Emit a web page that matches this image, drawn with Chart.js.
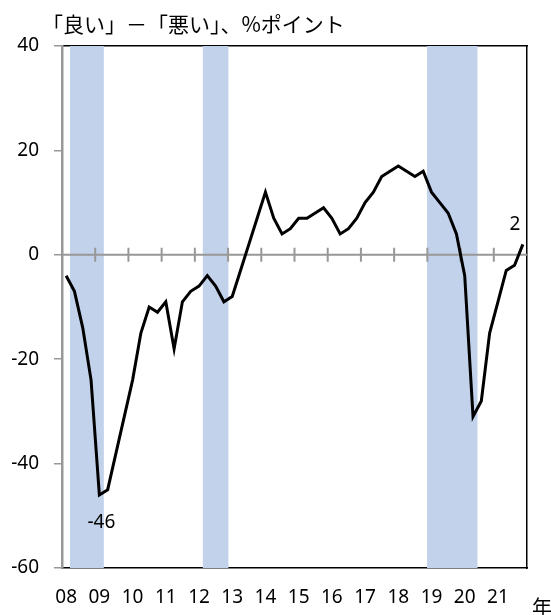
<!DOCTYPE html>
<html>
<head>
<meta charset="utf-8">
<script src="https://cdn.jsdelivr.net/npm/chart.js@4.4.1/dist/chart.umd.min.js"></script>
<style>
  html, body { margin: 0; padding: 0; background: #fff; }
  canvas { display: block; }
</style>
</head>
<body>
<canvas id="chart" width="551" height="615"></canvas>
<script>
// year labels (x axis) and quarterly DI values, 2008Q1 - 2021Q4
const years = ['08', '09', '10', '11', '12', '13', '14', '15', '16', '17', '18', '19', '20', '21'];
const quarterNames = ['Q1', 'Q2', 'Q3', 'Q4'];
const quarters = years.flatMap(y => quarterNames.map(q => y + q));

const diValues = [
  -4, -7, -14, -24,   // 08
  -46, -45, -38, -31, // 09
  -24, -15, -10, -11, // 10
  -9, -18, -9, -7,    // 11
  -6, -4, -6, -9,     // 12
  -8, -3, 2, 7,       // 13
  12, 7, 4, 5,        // 14
  7, 7, 8, 9,         // 15
  7, 4, 5, 7,         // 16
  10, 12, 15, 16,     // 17
  17, 16, 15, 16,     // 18
  12, 10, 8, 4,       // 19
  -4, -31, -28, -15,  // 20
  -9, -3, -2, 2       // 21
];

// shaded periods (first and last quarter)
const shadeFrom = ['08Q2', '12Q2', '19Q1'];
const shadeTo = ['09Q1', '12Q4', '20Q2'];

const yTicks = [-60, -40, -20, 0, 20, 40];
const Y_MIN = yTicks[0];
const Y_MAX = yTicks[yTicks.length - 1];

// quarters whose value gets a text label
const labelledQuarters = ['09Q1', '21Q4'];

const TITLE = '「良い」－「悪い」、%ポイント';
const X_UNIT = '年';

const NUM_FONT = "'Noto Sans', 'Open Sans', sans-serif";
const JP_FONT = "'Noto Sans CJK JP', 'Noto Sans', sans-serif";
const AXIS_GRAY = '#989898';

const shadeData = quarters.map(q => {
  const inside = shadeFrom.some((from, k) => {
    const a = quarters.indexOf(from);
    const b = quarters.indexOf(shadeTo[k]);
    const i = quarters.indexOf(q);
    return i >= a && i <= b;
  });
  return inside ? [Y_MIN, Y_MAX] : null;
});

// zero line with year tick marks, drawn over the shading but under the line
const zeroAxis = {
  id: 'zeroAxis',
  afterDatasetDraw(chart, args) {
    if (args.meta.type !== 'bar') return;
    const { ctx, chartArea } = chart;
    const xs = chart.scales.x;
    const y0 = chart.scales.y.getPixelForValue(0);
    ctx.save();
    ctx.strokeStyle = AXIS_GRAY;
    ctx.lineWidth = 2;
    ctx.beginPath();
    ctx.moveTo(chartArea.left, y0);
    ctx.lineTo(chartArea.right, y0);
    for (let k = 1; k < years.length; k++) {
      const bx = (xs.getPixelForValue(4 * k - 1) + xs.getPixelForValue(4 * k)) / 2;
      ctx.moveTo(bx, y0 - 7);
      ctx.lineTo(bx, y0 + 7);
    }
    ctx.stroke();
    ctx.restore();
  }
};

const texts = {
  id: 'texts',
  afterDraw(chart) {
    const { ctx } = chart;
    const meta = chart.getDatasetMeta(0);
    ctx.save();
    ctx.fillStyle = '#000';
    ctx.font = '19px ' + NUM_FONT;
    ctx.textAlign = 'center';
    ctx.textBaseline = 'middle';
    labelledQuarters.forEach(q => {
      const i = quarters.indexOf(q);
      const pt = meta.data[i];
      const v = diValues[i];
      if (v < 0) ctx.fillText(String(v), pt.x + 2, pt.y + 28);
      else ctx.fillText(String(v), pt.x - 8, pt.y - 20);
    });

    ctx.font = '21px ' + JP_FONT;
    ctx.textAlign = 'left';
    ctx.fillText(TITLE, 42, 24);
    ctx.font = '20px ' + JP_FONT;
    ctx.fillText(X_UNIT, 532, 607);
    ctx.restore();
  }
};

new Chart(document.getElementById('chart'), {
  data: {
    labels: quarters,
    datasets: [
      {
        type: 'line',
        data: diValues,
        borderColor: '#000',
        borderWidth: 3,
        pointRadius: 0,
        tension: 0,
        order: 0
      },
      {
        type: 'bar',
        data: shadeData,
        backgroundColor: '#c2d2eb',
        borderWidth: 0,
        barPercentage: 1,
        categoryPercentage: 1,
        order: 1
      }
    ]
  },
  options: {
    responsive: false,
    animation: false,
    layout: { padding: { left: 0, right: 24, top: 46, bottom: 0 } },
    plugins: {
      legend: { display: false },
      tooltip: { enabled: false }
    },
    scales: {
      x: {
        type: 'category',
        position: 'bottom',
        offset: true,
        afterFit: s => { s.height = 47; },
        grid: { display: true, drawOnChartArea: false, drawTicks: false, color: 'rgba(0,0,0,0)' },
        border: { display: true, color: '#000', width: 1.5 },
        ticks: {
          autoSkip: false,
          maxRotation: 0,
          padding: 18,
          color: '#000',
          font: { family: NUM_FONT, size: 19 },
          callback: (value, index) => index % 4 === 0 ? years[index / 4] : ''
        }
      },
      xTop: {
        type: 'category',
        position: 'top',
        offset: true,
        afterFit: s => { s.height = 0; },
        grid: { display: false },
        border: { display: true, color: '#000', width: 1.5 },
        ticks: { display: false }
      },
      y: {
        type: 'linear',
        position: 'left',
        min: Y_MIN,
        max: Y_MAX,
        afterFit: s => { s.width = 62; },
        afterBuildTicks: s => { s.ticks = yTicks.map(v => ({ value: v })); },
        grid: { display: true, drawOnChartArea: false, drawTicks: true, tickLength: 8, color: AXIS_GRAY, lineWidth: 1.5 },
        border: { display: true, color: AXIS_GRAY, width: 2.5 },
        ticks: {
          padding: 15,
          color: '#000',
          font: { family: NUM_FONT, size: 19 }
        }
      },
      yRight: {
        type: 'linear',
        position: 'right',
        min: Y_MIN,
        max: Y_MAX,
        afterFit: s => { s.width = 0; },
        grid: { display: false },
        border: { display: true, color: '#000', width: 1.5 },
        ticks: { display: false }
      }
    }
  },
  plugins: [zeroAxis, texts]
});
</script>
</body>
</html>
